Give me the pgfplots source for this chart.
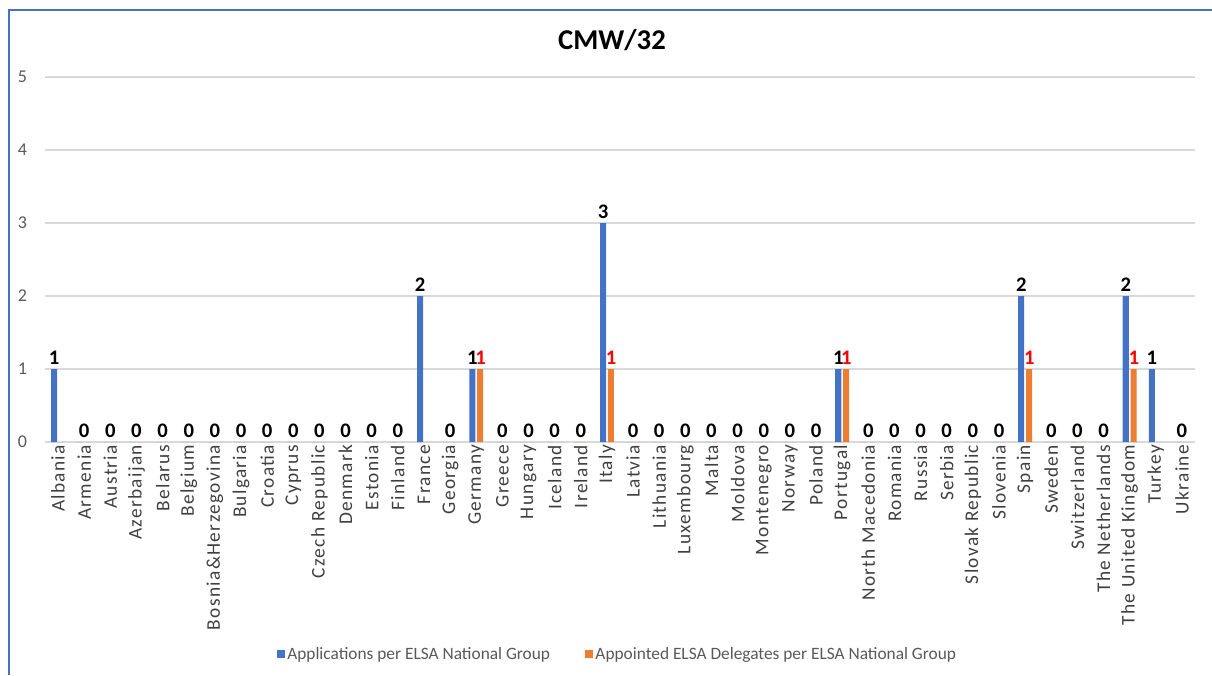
\documentclass[border=0pt]{standalone}
\usepackage{pgfplots}
\pgfplotsset{compat=1.18}
\usepackage{fontspec}
\setmainfont{Carlito}
\newfontfamily\labfont[LetterSpace=7]{Carlito}
\definecolor{cblue}{HTML}{4472C4}
\definecolor{corange}{HTML}{ED7D31}
\definecolor{cgrid}{HTML}{D9D9D9}
\definecolor{ctext}{HTML}{595959}
\definecolor{clab}{HTML}{404040}

\begin{document}
\begin{tikzpicture}
\useasboundingbox (0,0) rectangle (909pt,-506.25pt);
% chart frame (left and top edges visible)
\draw[cblue, line width=1.1pt] (6.75pt,-506.25pt) -- (6.75pt,-7.5pt) -- (909pt,-7.5pt);
\node[font=\fontsize{21.5}{24}\selectfont\bfseries] at (459pt,-30pt) {CMW/32};
\begin{axis}[
    at={(33.75pt,-331.5pt)}, anchor=south west,
    scale only axis, width=862.5pt, height=273.75pt,
    xmin=-0.5, xmax=43.5, ymin=0, ymax=5,
    ytick={0,1,2,3,4,5},
    xtick={0,...,43},
    xticklabels={Albania,Armenia,Austria,Azerbaijan,Belarus,Belgium,
        Bosnia\&Herzegovina,Bulgaria,Croatia,Cyprus,Czech Republic,Denmark,
        Estonia,Finland,France,Georgia,Germany,Greece,Hungary,Iceland,Ireland,
        Italy,Latvia,Lithuania,Luxembourg,Malta,Moldova,Montenegro,Norway,
        Poland,Portugal,North Macedonia,Romania,Russia,Serbia,Slovak Republic,
        Slovenia,Spain,Sweden,Switzerland,The Netherlands,The United Kingdom,
        Turkey,Ukraine},
    xticklabel style={rotate=90, anchor=east, text=clab,
        font=\labfont\fontsize{14.5}{16}\selectfont, inner sep=2pt},
    yticklabel style={text=ctext, font=\fontsize{13.5}{15}\selectfont,
        anchor=east, xshift=-10pt},
    /pgf/number format/assume math mode=true,
    axis line style={draw=none},
    major tick length=0pt,
    ymajorgrids,
    major grid style={cgrid, line width=0.8pt},
    clip=false,
    legend style={at={(0.498,-0.581)}, anchor=center, draw=none,
        legend columns=2, font=\fontsize{13}{15}\selectfont, text=ctext,
        /tikz/every even column/.append style={column sep=24pt},
        inner sep=0pt},
    legend image code/.code={\fill[#1] (0pt,-3pt) rectangle (6pt,3pt);},
]
% Applications per ELSA National Group
\addplot[ybar, fill=cblue, draw=none, bar width=0.23, bar shift=-0.15,
    nodes near coords={\pgfmathfloatifflags{\pgfplotspointmeta}{0}{}{\pgfmathprintnumber{\pgfplotspointmeta}}},
    nodes near coords style={font=\fontsize{15.5}{17}\selectfont\bfseries,
        text=black, xshift=-2.9pt}]
coordinates {
(0,1) (1,0) (2,0) (3,0) (4,0) (5,0) (6,0) (7,0) (8,0) (9,0) (10,0) (11,0)
(12,0) (13,0) (14,2) (15,0) (16,1) (17,0) (18,0) (19,0) (20,0) (21,3)
(22,0) (23,0) (24,0) (25,0) (26,0) (27,0) (28,0) (29,0) (30,1) (31,0)
(32,0) (33,0) (34,0) (35,0) (36,0) (37,2) (38,0) (39,0) (40,0) (41,2)
(42,1) (43,0)};
\addlegendentry{Applications per ELSA National Group}
% Appointed ELSA Delegates per ELSA National Group
\addplot[ybar, fill=corange, draw=none, bar width=0.23, bar shift=0.15,
    nodes near coords={\pgfmathfloatifflags{\pgfplotspointmeta}{0}{}{\pgfmathprintnumber{\pgfplotspointmeta}}},
    nodes near coords style={font=\fontsize{15.5}{17}\selectfont\bfseries,
        text=red, xshift=3.2pt}]
coordinates {
(0,0) (1,0) (2,0) (3,0) (4,0) (5,0) (6,0) (7,0) (8,0) (9,0) (10,0) (11,0)
(12,0) (13,0) (14,0) (15,0) (16,1) (17,0) (18,0) (19,0) (20,0) (21,1)
(22,0) (23,0) (24,0) (25,0) (26,0) (27,0) (28,0) (29,0) (30,1) (31,0)
(32,0) (33,0) (34,0) (35,0) (36,0) (37,1) (38,0) (39,0) (40,0) (41,1)
(42,0) (43,0)};
\addlegendentry{Appointed ELSA Delegates per ELSA National Group}
% zero labels, centred in each empty category
\addplot[forget plot, draw=none, mark=none, nodes near coords,
    nodes near coords style={font=\fontsize{15.5}{17}\selectfont\bfseries, text=black}]
coordinates {
(1,0) (2,0) (3,0) (4,0) (5,0) (6,0) (7,0) (8,0) (9,0) (10,0) (11,0)
(12,0) (13,0) (15,0) (17,0) (18,0) (19,0) (20,0) (22,0) (23,0) (24,0)
(25,0) (26,0) (27,0) (28,0) (29,0) (31,0) (32,0) (33,0) (34,0) (35,0)
(36,0) (38,0) (39,0) (40,0) (43,0)};
\end{axis}
\end{tikzpicture}
\end{document}
